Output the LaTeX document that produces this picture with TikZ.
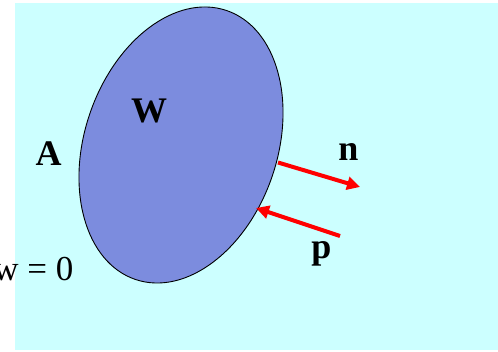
\documentclass[tikz,border=0pt]{standalone}
\usepackage{fontspec}
\setmainfont{Liberation Serif}
\usetikzlibrary{arrows.meta,shapes.geometric}
\definecolor{bgcyan}{RGB}{204,255,255}
\definecolor{blobblue}{RGB}{124,140,222}
\definecolor{arrowred}{RGB}{255,0,0}
\tikzset{
  lbl/.style={font=\fontsize{36}{42}\selectfont\bfseries, inner sep=0pt, anchor=base},
  plainlbl/.style={font=\fontsize{35}{42}\selectfont, inner sep=0pt, anchor=base east},
  vec/.style={draw=arrowred, line width=4pt, -{Triangle[length=13pt,width=13pt]}},
}
\begin{document}
\begin{tikzpicture}[x=1pt,y=1pt]
\useasboundingbox (0,0) rectangle (498,352);
\fill[bgcyan] (15,2) rectangle (498,349);
\draw[fill=blobblue, line width=0.9pt] (181,207) ellipse [x radius=142, y radius=96.4, rotate=71.3];
\node[lbl] (W) at (149,229) {W};
\node[lbl] (A) at (48.5,186) {A};
\node[lbl] (n) at (348.5,191) {n};
\node[lbl] (p) at (321.5,93) {p};
\node[plainlbl] (eq) at (73.5,71) {w = 0};
\coordinate (nstart) at (278,189.5);
\coordinate (ntip) at (360,165);
\coordinate (pstart) at (340,116);
\coordinate (ptip) at (256,144);
\draw[vec] (nstart) -- (ntip);
\draw[vec] (pstart) -- (ptip);
\end{tikzpicture}
\end{document}
